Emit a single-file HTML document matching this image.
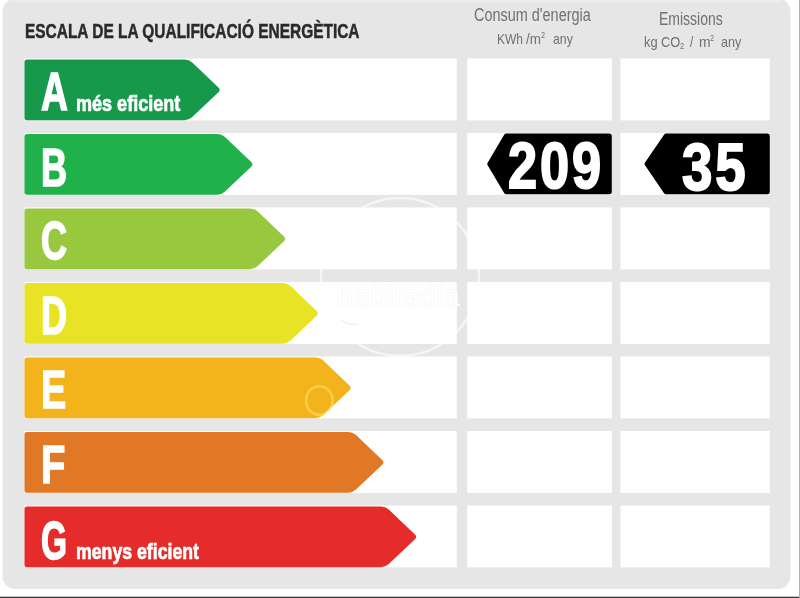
<!DOCTYPE html>
<html><head><meta charset="utf-8"><style>
html,body{margin:0;padding:0;width:800px;height:598px;overflow:hidden;background:#fff;position:relative}
.t{position:absolute;white-space:nowrap;transform-origin:0 0;font-family:"Liberation Sans",sans-serif;line-height:1}
.b{font-weight:bold}
.w{color:#fff;-webkit-text-stroke:1.6px #fff}
.g{color:#707070}
#wrap{position:absolute;left:0;top:0;width:800px;height:598px;filter:blur(0.45px)}
</style></head><body><div id="wrap">

<svg width="800" height="598" viewBox="0 0 800 598" style="position:absolute;left:0;top:0">
<rect x="2.5" y="-1.5" width="788" height="590.5" rx="13" fill="#e6e6e6"/>
<rect x="12" y="0" width="770" height="2.5" fill="#ececec"/>
<rect x="0" y="596.7" width="800" height="1.3" fill="#3a3a3a"/>
<rect x="799" y="0" width="1" height="598" fill="#b0b0b0"/>
<rect x="24.5" y="58.50" width="432.3" height="61.9" fill="#fff"/>
<rect x="467.2" y="58.50" width="144.8" height="61.9" fill="#fff"/>
<rect x="620.5" y="58.50" width="149.3" height="61.9" fill="#fff"/>
<path d="M24.50,61.90 Q24.50,59.40 27.00,59.40 L184.50,59.40 Q189.00,59.40 192.26,62.50 L218.46,87.39 Q221.00,89.80 218.46,92.21 L192.26,117.10 Q189.00,120.20 184.50,120.20 L27.00,120.20 Q24.50,120.20 24.50,117.70 Z" fill="#17994b"/>
<rect x="24.5" y="133.00" width="432.3" height="61.9" fill="#fff"/>
<rect x="467.2" y="133.00" width="144.8" height="61.9" fill="#fff"/>
<rect x="620.5" y="133.00" width="149.3" height="61.9" fill="#fff"/>
<path d="M24.50,136.40 Q24.50,133.90 27.00,133.90 L217.25,133.90 Q221.75,133.90 225.01,137.00 L251.21,161.89 Q253.75,164.30 251.21,166.71 L225.01,191.60 Q221.75,194.70 217.25,194.70 L27.00,194.70 Q24.50,194.70 24.50,192.20 Z" fill="#21b14b"/>
<rect x="24.5" y="207.50" width="432.3" height="61.9" fill="#fff"/>
<rect x="467.2" y="207.50" width="144.8" height="61.9" fill="#fff"/>
<rect x="620.5" y="207.50" width="149.3" height="61.9" fill="#fff"/>
<path d="M24.50,210.90 Q24.50,208.40 27.00,208.40 L250.00,208.40 Q254.50,208.40 257.76,211.50 L283.96,236.39 Q286.50,238.80 283.96,241.21 L257.76,266.10 Q254.50,269.20 250.00,269.20 L27.00,269.20 Q24.50,269.20 24.50,266.70 Z" fill="#98c83d"/>
<rect x="24.5" y="282.00" width="432.3" height="61.9" fill="#fff"/>
<rect x="467.2" y="282.00" width="144.8" height="61.9" fill="#fff"/>
<rect x="620.5" y="282.00" width="149.3" height="61.9" fill="#fff"/>
<path d="M24.50,285.40 Q24.50,282.90 27.00,282.90 L282.75,282.90 Q287.25,282.90 290.51,286.00 L316.71,310.89 Q319.25,313.30 316.71,315.71 L290.51,340.60 Q287.25,343.70 282.75,343.70 L27.00,343.70 Q24.50,343.70 24.50,341.20 Z" fill="#e8e425"/>
<rect x="24.5" y="356.50" width="432.3" height="61.9" fill="#fff"/>
<rect x="467.2" y="356.50" width="144.8" height="61.9" fill="#fff"/>
<rect x="620.5" y="356.50" width="149.3" height="61.9" fill="#fff"/>
<path d="M24.50,359.90 Q24.50,357.40 27.00,357.40 L315.50,357.40 Q320.00,357.40 323.26,360.50 L349.46,385.39 Q352.00,387.80 349.46,390.21 L323.26,415.10 Q320.00,418.20 315.50,418.20 L27.00,418.20 Q24.50,418.20 24.50,415.70 Z" fill="#f2b31b"/>
<rect x="24.5" y="431.00" width="432.3" height="61.9" fill="#fff"/>
<rect x="467.2" y="431.00" width="144.8" height="61.9" fill="#fff"/>
<rect x="620.5" y="431.00" width="149.3" height="61.9" fill="#fff"/>
<path d="M24.50,434.40 Q24.50,431.90 27.00,431.90 L348.25,431.90 Q352.75,431.90 356.01,435.00 L382.21,459.89 Q384.75,462.30 382.21,464.71 L356.01,489.60 Q352.75,492.70 348.25,492.70 L27.00,492.70 Q24.50,492.70 24.50,490.20 Z" fill="#e17825"/>
<rect x="24.5" y="505.50" width="432.3" height="61.9" fill="#fff"/>
<rect x="467.2" y="505.50" width="144.8" height="61.9" fill="#fff"/>
<rect x="620.5" y="505.50" width="149.3" height="61.9" fill="#fff"/>
<path d="M24.50,508.90 Q24.50,506.40 27.00,506.40 L381.00,506.40 Q385.50,506.40 388.76,509.50 L414.96,534.39 Q417.50,536.80 414.96,539.21 L388.76,564.10 Q385.50,567.20 381.00,567.20 L27.00,567.20 Q24.50,567.20 24.50,564.70 Z" fill="#e52c2a"/>
<polygon points="489.8,163.95 506.3,136.1 609.3,136.1 609.3,191.8 506.3,191.8" fill="#000" stroke="#000" stroke-width="5" stroke-linejoin="round"/>
<polygon points="647.1,163.95 666.1,136.1 767.3,136.1 767.3,191.8 666.1,191.8" fill="#000" stroke="#000" stroke-width="5" stroke-linejoin="round"/>
</svg>
<div class="t b" style="left:24.6px;top:20.70px;font-size:20.8px;transform:scaleX(0.743);color:#2a2a2a;-webkit-text-stroke:0.5px #2a2a2a">ESCALA DE LA QUALIFICACIÓ ENERGÈTICA</div>
<div class="t g" style="left:473.5px;top:6.30px;font-size:18.3px;transform:scaleX(0.79);">Consum d'energia</div>
<div class="t g" style="left:658.5px;top:10.10px;font-size:18.3px;transform:scaleX(0.766);">Emissions</div>
<div class="t g" style="left:497.3px;top:31.89px;font-size:14.6px;transform:scaleX(0.82);">KWh</div>
<div class="t g" style="left:525.8px;top:31.89px;font-size:14.6px;transform:scaleX(0.92);">/m</div>
<div class="t g" style="left:540.6px;top:30.64px;font-size:8.6px;transform:scaleX(0.85);">2</div>
<div class="t g" style="left:553px;top:31.89px;font-size:14.6px;transform:scaleX(0.84);">any</div>
<div class="t g" style="left:644.1px;top:35.49px;font-size:14.6px;transform:scaleX(0.88);">kg</div>
<div class="t g" style="left:660.6px;top:35.49px;font-size:14.6px;transform:scaleX(0.88);">CO</div>
<div class="t g" style="left:680px;top:41.84px;font-size:8.6px;transform:scaleX(0.85);">2</div>
<div class="t g" style="left:689.8px;top:35.49px;font-size:14.6px;transform:scaleX(0.8);">/</div>
<div class="t g" style="left:698.5px;top:35.49px;font-size:14.6px;transform:scaleX(0.95);">m</div>
<div class="t g" style="left:709.9px;top:33.84px;font-size:8.6px;transform:scaleX(0.85);">2</div>
<div class="t g" style="left:721.2px;top:35.49px;font-size:14.6px;transform:scaleX(0.86);">any</div>
<div class="t b w" style="left:41px;top:64.04px;font-size:54px;transform:scaleX(0.6895);">A</div>
<div class="t b w" style="left:41px;top:139.74px;font-size:54px;transform:scaleX(0.6698000000000001);">B</div>
<div class="t b w" style="left:41px;top:213.24px;font-size:54px;transform:scaleX(0.6698000000000001);">C</div>
<div class="t b w" style="left:41px;top:288.04px;font-size:54px;transform:scaleX(0.6698000000000001);">D</div>
<div class="t b w" style="left:41px;top:361.84px;font-size:54px;transform:scaleX(0.6993499999999999);">E</div>
<div class="t b w" style="left:41px;top:436.94px;font-size:54px;transform:scaleX(0.73875);">F</div>
<div class="t b w" style="left:41px;top:513.24px;font-size:54px;transform:scaleX(0.62055);">G</div>
<div class="t b w" style="left:76.3px;top:92.12px;font-size:22.7px;transform:scaleX(0.795);-webkit-text-stroke:0.7px #fff">més eficient</div>
<div class="t b w" style="left:76px;top:540.37px;font-size:22.7px;transform:scaleX(0.78);-webkit-text-stroke:0.7px #fff">menys eficient</div>
<div class="t b w" style="left:508.3px;top:133.42px;font-size:65.5px;transform:scaleX(0.8);-webkit-text-stroke:2px #fff;letter-spacing:3.5px">209</div>
<div class="t b w" style="left:681.8px;top:132.68px;font-size:67px;transform:scaleX(0.815);-webkit-text-stroke:2px #fff;letter-spacing:3.5px">35</div>
<div class="t" style="left:337px;top:281.5px;font-size:29px;color:#fff;letter-spacing:0.6px;-webkit-text-stroke:0.6px #fff;text-shadow:0 0 1.2px rgba(0,0,0,0.22)">habitadia</div>
<svg width="800" height="598" style="position:absolute;left:0;top:0"><circle cx="400" cy="277" r="79" fill="none" stroke="rgba(255,255,255,0.6)" stroke-width="2.5"/><ellipse cx="319.3" cy="400.5" rx="13.3" ry="14.2" fill="none" stroke="rgba(255,235,120,0.5)" stroke-width="2.6"/><path d="M341 320 q8 6 16 4" fill="none" stroke="rgba(0,0,0,0.05)" stroke-width="2"/></svg>
</div></body></html>
